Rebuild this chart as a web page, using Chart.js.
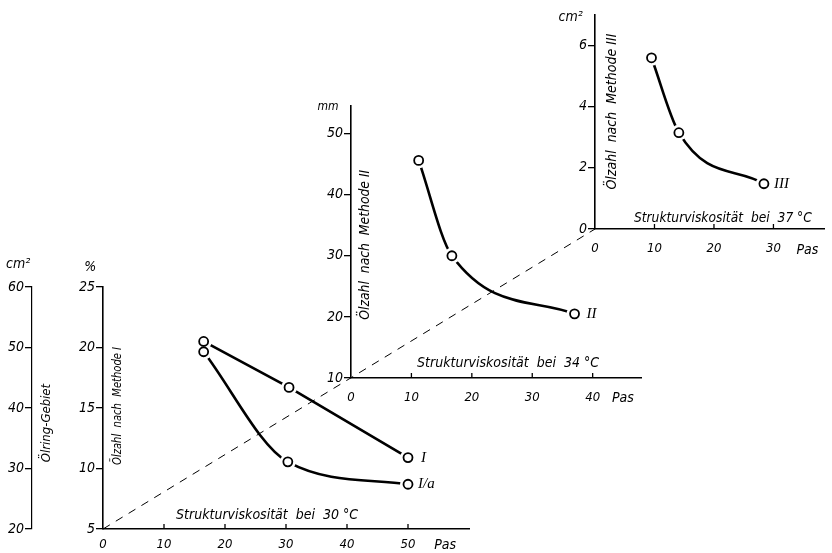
<!DOCTYPE html>
<html><head><meta charset="utf-8">
<script src="https://cdn.jsdelivr.net/npm/chart.js@4.4.1/dist/chart.umd.min.js"></script>
<style>
html,body{margin:0;padding:0;background:#fff;}
#wrap{position:relative;width:832px;height:553px;overflow:hidden;background:#fff;}
#wrap canvas{position:absolute;left:0;top:0;}
</style></head><body>
<div id="wrap">
<canvas id="guide" width="832" height="553"></canvas>
<canvas id="c1" width="832" height="553"></canvas>
<canvas id="c2" width="832" height="553"></canvas>
<canvas id="c3" width="832" height="553"></canvas>
</div>
<script>
// ---------- data ----------
// Plot 1: Strukturviskosität bei 30 °C
const xTicks1 = [0, 10, 20, 30, 40, 50];
const yTicks1 = [5, 10, 15, 20, 25];          // %
const y2Ticks1 = [20, 30, 40, 50, 60];        // cm² (Ölring-Gebiet)
const viscI = [16.5, 30.5, 50];
const oilI = [20.5, 16.7, 10.9];              // Ölzahl nach Methode I (%)
const viscIa = [16.5, 30.3, 50];
const ringIa = [49.3, 31.1, 27.4];            // Ölring-Gebiet I/a (cm²)
// Plot 2: 34 °C
const xTicks2 = [0, 10, 20, 30, 40];
const yTicks2 = [10, 20, 30, 40, 50];         // mm
const viscII = [11.2, 16.7, 37];
const oilII = [45.6, 30, 20.5];
// Plot 3: 37 °C
const xTicks3 = [0, 10, 20, 30];
const yTicks3 = [0, 2, 4, 6];                 // cm²
const viscIII = [9.5, 14.1, 28.4];
const oilIII = [5.6, 3.15, 1.48];

// ---------- helpers ----------
const FAM = '"Liberation Sans Narrow","DejaVu Sans Condensed","Liberation Sans",sans-serif';
const SERIF = '"Liberation Serif","DejaVu Serif",serif';
Chart.defaults.font.family = FAM;
Chart.defaults.font.style = 'italic';
Chart.defaults.color = '#000';

const pts = (xs, ys) => xs.map((x, i) => ({x, y: ys[i]}));
const setTicks = arr => s => { s.ticks = arr.map(v => ({value: v})); };

function series(data, yAxisID, curve) {
  return [
    {data, yAxisID, order: 0, showLine: false, pointRadius: 4.5, pointBorderWidth: 1.8,
     pointBackgroundColor: '#fff', pointBorderColor: '#000'},
    {data, yAxisID, order: 1, showLine: false, pointRadius: 8, pointBorderWidth: 0,
     pointBackgroundColor: '#fff', pointBorderColor: '#fff'},
    {data, yAxisID, order: 2, showLine: true, pointRadius: 0, borderColor: '#000', borderWidth: 2.6,
     cubicInterpolationMode: curve ? 'monotone' : 'default', tension: 0}
  ];
}
function yAxis(min, max, ticks, width, extra) {
  return Object.assign({
    type: 'linear', position: 'left', min, max,
    afterBuildTicks: setTicks(ticks), afterFit: s => { s.width = width; },
    grid: {drawOnChartArea: false, drawTicks: true, tickLength: 7, color: '#000', lineWidth: 1.3},
    border: {display: true, color: '#000', width: 1.6},
    ticks: {font: {size: 14, style: 'italic'}, padding: 1, color: '#000'}
  }, extra || {});
}
function xAxis(min, max, ticks, pad) {
  return {
    type: 'linear', position: 'bottom', min, max,
    afterBuildTicks: setTicks(ticks), afterFit: s => { s.height = 24; },
    grid: {display: false, drawTicks: false},
    border: {display: true, color: '#000', width: 1.6},
    ticks: {font: {size: 13, style: 'italic'}, padding: pad, color: '#000', maxRotation: 0, autoSkip: false}
  };
}
function notes(id, items) {
  return {id, afterDraw(chart) {
    const {ctx, scales} = chart;
    items.forEach(n => {
      const px = scales.x.getPixelForValue(n.x), py = scales.y.getPixelForValue(n.y);
      ctx.save();
      ctx.translate(px, py);
      if (n.rot) ctx.rotate(-Math.PI / 2);
      ctx.font = 'italic ' + (n.size || 14) + 'px ' + (n.fam || FAM);
      ctx.fillStyle = '#000';
      ctx.textAlign = n.align || 'center';
      ctx.textBaseline = 'middle';
      if (n.w) ctx.fillText(n.t, 0, 0, n.w); else ctx.fillText(n.t, 0, 0);
      ctx.restore();
    });
  }};
}
function seriesLabels(id, items) {
  return {id, afterDraw(chart) {
    const ctx = chart.ctx;
    items.forEach(n => {
      const els = chart.getDatasetMeta(n.ds).data, p = els[els.length - 1];
      ctx.save();
      ctx.font = 'italic 15px ' + SERIF;
      ctx.fillStyle = '#000'; ctx.textAlign = 'left'; ctx.textBaseline = 'middle';
      ctx.fillText(n.t, p.x + n.dx, p.y + (n.dy || 0));
      ctx.restore();
    });
  }};
}
const innerTicks = {id: 'innerTicks', afterDraw(chart) {
  const s = chart.scales.x, ctx = chart.ctx;
  ctx.save(); ctx.strokeStyle = '#000'; ctx.lineWidth = 1.3;
  s.ticks.forEach(t => {
    if (t.value === 0) return;
    const px = s.getPixelForValue(t.value);
    ctx.beginPath(); ctx.moveTo(px, s.top); ctx.lineTo(px, s.top - 5); ctx.stroke();
  });
  ctx.restore();
}};
const common = {responsive: false, animation: false, events: [],
  plugins: {legend: {display: false}, tooltip: {enabled: false}}};

// ---------- plot 1 ----------
const c1 = new Chart(document.getElementById('c1'), {
  type: 'line',
  data: {datasets: [...series(pts(viscI, oilI), 'y', false), ...series(pts(viscIa, ringIa), 'y2', true)]},
  options: Object.assign({}, common, {
    layout: {padding: {left: 0, top: 287, right: 363, bottom: 0}},
    scales: {
      x: xAxis(0, 60, xTicks1, 8),
      y: yAxis(5, 25, yTicks1, 71, {weight: 0}),
      y2: yAxis(20, 60, y2Ticks1, 32, {weight: 1,
        border: {display: true, color: '#000', width: 1.2, dash: [7, 4]}})
    }
  }),
  plugins: [innerTicks,
    notes('n1', [
      {t: '%', x: -2.1, y: 26.65},
      {t: 'cm²', x: -13.9, y: 26.9},
      {t: 'Ölring-Gebiet', x: -9.2, y: 13.76, rot: true, w: 93, size: 13},
      {t: 'Ölzahl  nach  Methode I', x: 2.46, y: 15.17, rot: true, w: 118, size: 13},
      {t: 'Strukturviskosität  bei  30 °C', x: 26.9, y: 6.16, w: 200},
      {t: 'Pas', x: 56.1, y: 3.68}
    ]),
    seriesLabels('l1', [{ds: 0, t: 'I', dx: 13}, {ds: 3, t: 'I/a', dx: 10}])]
});

// ---------- plot 2 ----------
const c2 = new Chart(document.getElementById('c2'), {
  type: 'line',
  data: {datasets: series(pts(viscII, oilII), 'y', true)},
  options: Object.assign({}, common, {
    layout: {padding: {left: 311, top: 106, right: 191, bottom: 151}},
    scales: {x: xAxis(0, 48, xTicks2, 12), y: yAxis(10, 54.5, yTicks2, 40)}
  }),
  plugins: [innerTicks,
    notes('n2', [
      {t: 'mm', x: -3.8, y: 54.4, size: 12},
      {t: 'Ölzahl  nach  Methode II', x: 2.3, y: 31.8, rot: true, w: 150},
      {t: 'Strukturviskosität  bei  34 °C', x: 26, y: 12.46, w: 200},
      {t: 'Pas', x: 45, y: 6.7}
    ]),
    seriesLabels('l2', [{ds: 0, t: 'II', dx: 12}])]
});

// ---------- plot 3 ----------
const c3 = new Chart(document.getElementById('c3'), {
  type: 'line',
  data: {datasets: series(pts(viscIII, oilIII), 'y', true)},
  options: Object.assign({}, common, {
    layout: {padding: {left: 565, top: 15, right: 2, bottom: 300}},
    scales: {x: xAxis(0, 38.5, xTicks3, 12), y: yAxis(0, 7, yTicks3, 30)}
  }),
  plugins: [innerTicks,
    notes('n3', [
      {t: 'cm²', x: -4.1, y: 6.92},
      {t: 'Ölzahl  nach  Methode III', x: 2.95, y: 3.84, rot: true, w: 161},
      {t: 'Strukturviskosität  bei  37 °C', x: 21.5, y: 0.36, w: 178},
      {t: 'Pas', x: 35.7, y: -0.69}
    ]),
    seriesLabels('l3', [{ds: 0, t: 'III', dx: 10}])]
});

// ---------- dashed guide through the three origins ----------
(function () {
  const g = document.getElementById('guide').getContext('2d');
  const a = {x: c1.scales.x.getPixelForValue(0), y: c1.scales.y.getPixelForValue(yTicks1[0])};
  const b = {x: c3.scales.x.getPixelForValue(0), y: c3.scales.y.getPixelForValue(yTicks3[0])};
  g.strokeStyle = '#000'; g.lineWidth = 1; g.setLineDash([8, 7]);
  g.beginPath(); g.moveTo(a.x, a.y); g.lineTo(b.x, b.y); g.stroke();
})();
</script>
</body></html>
